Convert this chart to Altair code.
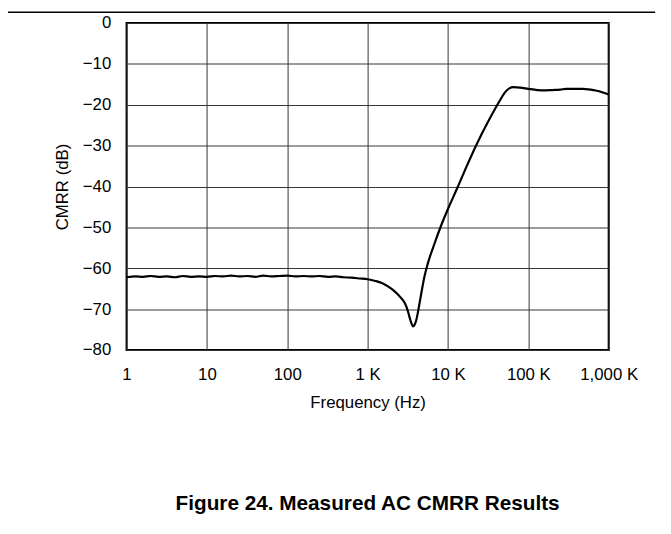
import altair as alt
import pandas as pd

# Frequency (Hz) and measured CMRR (dB)
freq = [1, 1.3, 1.6, 2, 2.5, 3.2, 4, 5, 6.3, 8,
        10, 12.6, 16, 20, 25, 32, 40, 50, 63, 80,
        100, 126, 160, 200, 250, 320, 400, 500, 630, 800,
        1000, 1245, 1500, 1811, 2100, 2405, 2700, 2904, 3150, 3350,
        3550, 3675, 3850, 4045, 4300, 4660, 5100, 5620, 6790, 8200,
        10000, 13100, 17400, 23100, 30700, 40700, 46000, 51500, 58000, 65300,
        78800, 100000, 130000, 152000, 200000, 250000, 295000, 400000, 472000, 600000,
        688000, 850000, 1000000]
cmrr = [-62.2, -62.0, -62.1, -61.9, -62.1, -62.0, -62.2, -61.9, -62.1, -62.0,
        -62.1, -61.9, -62.0, -61.8, -62.0, -61.9, -62.1, -61.8, -62.0, -61.9,
        -61.8, -62.0, -61.9, -62.0, -61.9, -62.1, -62.0, -62.2, -62.3, -62.5,
        -62.7, -63.1, -63.6, -64.5, -65.4, -66.5, -67.6, -68.5, -70.3, -72.2,
        -73.7, -74.2, -73.8, -72.6, -70.0, -66.1, -62.0, -58.8, -54.0, -49.6,
        -45.5, -40.3, -34.7, -29.4, -24.6, -20.2, -18.4, -16.9, -16.0, -15.7,
        -15.8, -16.1, -16.4, -16.5, -16.4, -16.3, -16.1, -16.1, -16.1, -16.3,
        -16.5, -17.0, -17.5]

x_ticks = [1, 10, 100, 1000, 10000, 100000, 1000000]
y_ticks = [0, -10, -20, -30, -40, -50, -60, -70, -80]

df = pd.DataFrame({"f": freq, "db": cmrr})

FONT = "Liberation Sans"

line = alt.Chart(df).mark_line(
    color="black", strokeWidth=2.2, interpolate="monotone"
).encode(
    x=alt.X("f:Q",
            scale=alt.Scale(type="log", domain=[1, 1000000]),
            axis=alt.Axis(values=x_ticks, title="Frequency (Hz)",
                          labelExpr="datum.value >= 1000 ? format(datum.value/1000, ',') + ' K' : format(datum.value, ',')",
                          labelFlush=False, labelOverlap=False,
                          labelPadding=17, titlePadding=12)),
    y=alt.Y("db:Q",
            scale=alt.Scale(domain=[-80, 0]),
            axis=alt.Axis(values=y_ticks, title="CMRR (dB)",
                          labelExpr="replace(format(datum.value, 'd'), '-', '\u2212')",
                          labelFlush=False, labelOverlap=False,
                          labelPadding=16, titlePadding=11)),
)

sep = alt.Chart(pd.DataFrame({"k": [0]})).mark_rule(
    color="black", strokeWidth=1.5
).encode(x=alt.value(-120), x2=alt.value(535), y=alt.value(-11))

chart = alt.layer(line, sep).properties(
    width=488,
    height=331,
    autosize=alt.AutoSizeParams(type="none"),
    padding={"left": 120, "top": 12, "right": 55, "bottom": 180},
    title=alt.TitleParams(
        text="Figure 24. Measured AC CMRR Results",
        orient="bottom", offset=84, font=FONT, fontSize=21,
        fontWeight="bold", color="black", anchor="middle"),
).configure_view(
    stroke="black", strokeWidth=2
).configure_axis(
    labelFont=FONT, titleFont=FONT, labelFontSize=17, titleFontSize=17,
    titleFontWeight="normal", labelColor="black", titleColor="black",
    ticks=False, tickSize=0, domain=False,
    grid=True, gridColor="#333333", gridWidth=1, gridOpacity=1,
)

chart.save("out.html", embed_options={"renderer": "svg", "actions": False})
